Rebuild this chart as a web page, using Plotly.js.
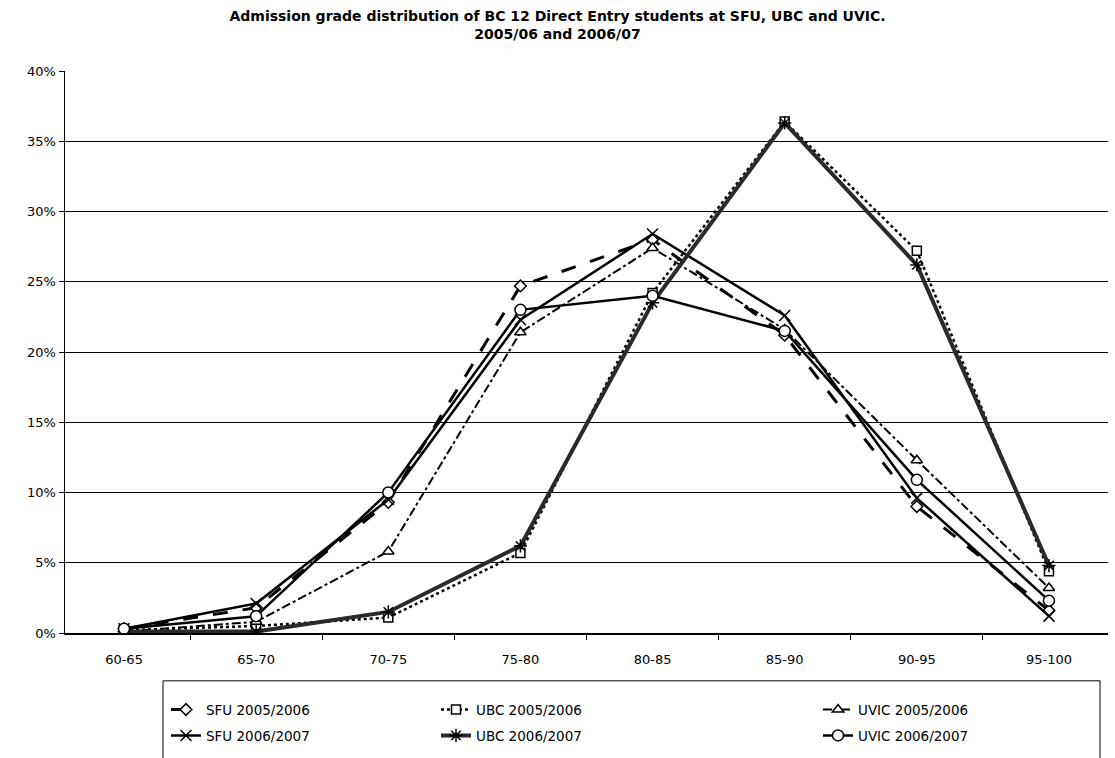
<!DOCTYPE html>
<html>
<head>
<meta charset="utf-8">
<script src="https://cdn.plot.ly/plotly-3.0.1.min.js"></script>
<style>html,body{margin:0;padding:0;background:#fff;}#chart{width:1115px;height:758px;}</style>
</head>
<body>
<div id="chart"></div>
<script>
const categories = ["60-65","65-70","70-75","75-80","80-85","85-90","90-95","95-100"];
const sfu0506  = [0.3, 1.8, 9.3, 24.7, 28.0, 21.2, 9.0, 1.6];
const ubc0506  = [0.2, 0.5, 1.1, 5.7, 24.2, 36.4, 27.2, 4.4];
const uvic0506 = [0.1, 0.8, 5.8, 21.4, 27.4, 21.6, 12.3, 3.2];
const sfu0607  = [0.3, 2.1, 9.5, 22.3, 28.4, 22.6, 9.6, 1.2];
const ubc0607  = [0.1, 0.1, 1.5, 6.2, 23.5, 36.3, 26.2, 4.8];
const uvic0607 = [0.3, 1.2, 10.0, 23.0, 24.0, 21.5, 10.9, 2.3];
const seriesNames = ["SFU 2005/2006","UBC 2005/2006","UVIC 2005/2006","SFU 2006/2007","UBC 2006/2007","UVIC 2006/2007"];

const FONT = "DejaVu Sans, Verdana, sans-serif";
const styles = [
  {dash:"longdash", width:3, color:"#000", symbol:"diamond", msize:9},
  {dash:"dot", width:2.5, color:"#000", symbol:"square", msize:9},
  {dash:"dashdot", width:2, color:"#000", symbol:"triangle-up", msize:10},
  {dash:"solid", width:2.5, color:"#000", symbol:"x-thin-open", msize:11},
  {dash:"solid", width:4, color:"#2a2a2a", symbol:"asterisk-open", msize:11},
  {dash:"solid", width:2.5, color:"#000", symbol:"circle", msize:11}
];
const values = [sfu0506, ubc0506, uvic0506, sfu0607, ubc0607, uvic0607];
const legendIds = ["legend","legend3","legend5","legend2","legend4","legend6"];

const traces = values.map((v,i)=>{
  const s = styles[i];
  const open = s.symbol.endsWith("-open");
  return {
    type:"scatter", mode:"lines+markers", name:seriesNames[i],
    x:categories, y:v,
    line:{color:s.color, width:s.width, dash:s.dash},
    marker:{symbol:s.symbol, size:s.msize, color: open ? "#000" : "#fff",
            line:{color:"#000", width:1.5}},
    legend: legendIds[i]
  };
});

function px2x(px){ return (px-65)/1043; }
function py2y(py){ return (635-py)/564; }
const lg = (x,y)=>({x:px2x(x), y:py2y(y), xanchor:"left", yanchor:"middle",
  bgcolor:"rgba(0,0,0,0)", borderwidth:0, font:{family:FONT,size:13.5,color:"#000"}, itemwidth:30});

const layout = {
  width:1115, height:758,
  margin:{l:65, r:7, t:71, b:123},
  paper_bgcolor:"#fff", plot_bgcolor:"#fff",
  font:{family:FONT, size:13, color:"#000"},
  title:{text:"<b>Admission grade distribution of BC 12 Direct Entry students at SFU, UBC and UVIC.<br>2005/06 and 2006/07</b>",
         x:0.5, xref:"container", y:0.972, yanchor:"top", font:{family:FONT,size:14,color:"#000"}},
  showlegend:true,
  legend: lg(166,712),
  legend2: lg(166,738),
  legend3: lg(436,712),
  legend4: lg(436,738),
  legend5: lg(818,712),
  legend6: lg(818,738),
  xaxis:{type:"category", tickson:"boundaries", ticks:"outside", ticklen:5, tickcolor:"#000",
         showline:true, linecolor:"#000", linewidth:1.5, showgrid:false, zeroline:false,
         ticklabelstandoff:14,
         tickfont:{family:FONT,size:13,color:"#000"}},
  yaxis:{range:[0,40], dtick:5, ticksuffix:"%", ticks:"outside", ticklen:5, tickcolor:"#000",
         showline:true, linecolor:"#000", linewidth:1.5, showgrid:true, gridcolor:"#000", gridwidth:1,
         zeroline:false, tickfont:{family:FONT,size:13,color:"#000"}},
  shapes:[{type:"rect", xref:"paper", yref:"paper", x0:px2x(163), x1:px2x(1100), y0:py2y(683), y1:py2y(775),
           line:{color:"#000", width:1}, fillcolor:"rgba(0,0,0,0)"}]
};
Plotly.newPlot("chart", traces, layout, {displayModeBar:false, staticPlot:true});
</script>
</body>
</html>
